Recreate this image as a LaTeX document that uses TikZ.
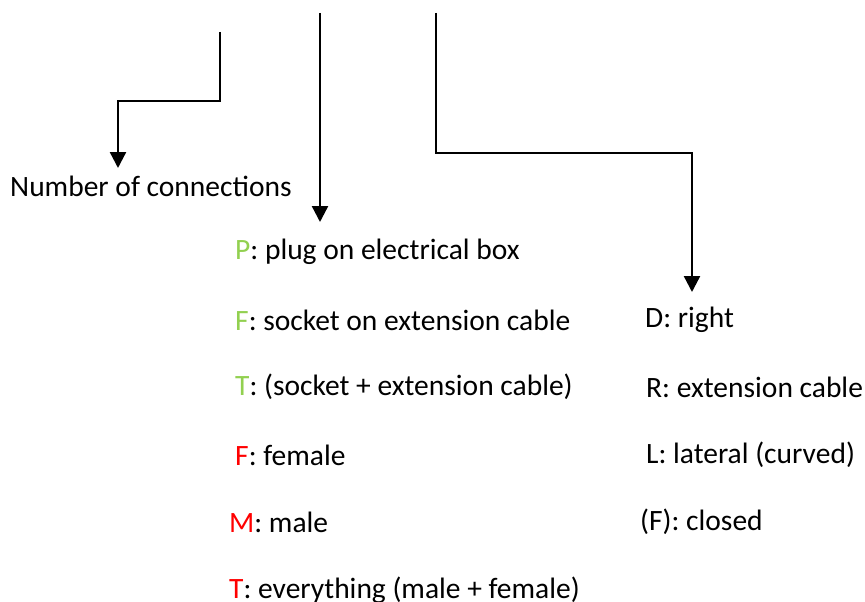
\documentclass[tikz,border=0pt]{standalone}
\usepackage{fontspec}
\setmainfont{Carlito}
\usetikzlibrary{arrows.meta}
\definecolor{plgreen}{RGB}{146,208,80}
\definecolor{plred}{RGB}{255,0,0}
\tikzset{
    conn/.style={line width=2.4pt, -{Triangle[width=16pt,length=16pt]}},
    lbl/.style={anchor=west, inner sep=0pt, font=\fontsize{29.5}{34}\selectfont}
}
\begin{document}
\begin{tikzpicture}[x=1pt, y=-1pt]
    \useasboundingbox (0,0) rectangle (865,602);
    % start and end points of the three connectors
    \coordinate (nTop) at (220,32);
    \coordinate (nTip) at (118,168);
    \coordinate (tTop) at (320,13);
    \coordinate (tTip) at (320,222);
    \coordinate (sTop) at (436,13);
    \coordinate (sTip) at (692,292);
    % labels
    \node[lbl] (num) at (10,186) {Number of connections};
    \node[lbl] (plug) at (235,252) {\textcolor{plgreen}{P}: plug on electrical box};
    \node[lbl] (sock) at (235,320) {\textcolor{plgreen}{F}: socket on extension cable};
    \node[lbl] (both) at (235,387) {\textcolor{plgreen}{T}: (socket + extension cable)};
    \node[lbl] (fem) at (235,455) {\textcolor{plred}{F}: female};
    \node[lbl] (mal) at (229,522) {\textcolor{plred}{M}: male};
    \node[lbl] (all) at (229,590) {\textcolor{plred}{T}: everything (male + female)};
    \node[lbl] (right) at (645,320) {D: right};
    \node[lbl] (ext) at (646,387) {R: extension cable};
    \node[lbl] (lat) at (646,455) {L: lateral (curved)};
    \node[lbl] (clo) at (640,522) {(F): closed};
    % connectors
    \draw[conn] (nTop) |- (170,101) -| (nTip);
    \draw[conn] (tTop) -- (tTip);
    \draw[conn] (sTop) |- (560,153) -| (sTip);
\end{tikzpicture}
\end{document}
